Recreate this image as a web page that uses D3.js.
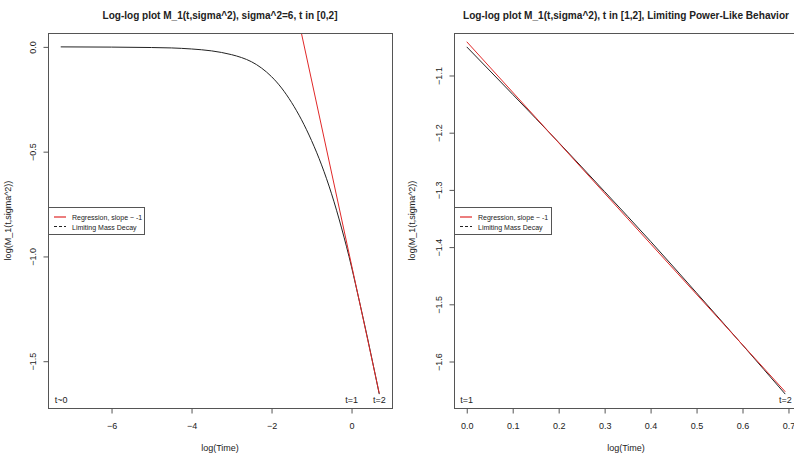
<!DOCTYPE html>
<html><head><meta charset="utf-8">
<script src="https://cdn.jsdelivr.net/npm/d3@7"></script>
<style>body{margin:0;background:#fff}svg{display:block}text{font-family:"Liberation Sans",Arial,sans-serif;fill:#222}</style>
</head><body><svg id="c" width="794" height="455"></svg>
<script>
// Left panel: log-log mass curve over t in [~0, 2]
const leftLogT = [-7.27,-6.0,-5.0,-4.5,-4.0,-3.5,-3.0,-2.75,-2.5,-2.25,-2.0,-1.75,-1.5,-1.25,-1.0,-0.75,-0.5,-0.25,0,0.1,0.2,0.3,0.4,0.5,0.6,0.693];
const leftLogM = [0.000,-0.001,-0.003,-0.005,-0.010,-0.019,-0.037,-0.051,-0.071,-0.101,-0.142,-0.196,-0.265,-0.348,-0.447,-0.563,-0.701,-0.864,-1.050,-1.133,-1.217,-1.303,-1.390,-1.480,-1.571,-1.657];
// Right panel: t in [1, 2]
const rightLogT = [0,0.1,0.2,0.3,0.4,0.5,0.6,0.693];
const rightLogM = [-1.050,-1.133,-1.217,-1.303,-1.390,-1.480,-1.571,-1.657];
// Regression line (intercept, slope)
const regIntercept = -1.041;
const regSlope = -0.883;
const leftXTicks = [-6,-4,-2,0];
const leftYTicks = [0.0,-0.5,-1.0,-1.5];
const rightXTicks = [0.0,0.1,0.2,0.3,0.4,0.5,0.6,0.7];
const rightYTicks = [-1.1,-1.2,-1.3,-1.4,-1.5,-1.6];
const titles = ["Log-log plot M_1(t,sigma^2), sigma^2=6, t in [0,2]","Log-log plot M_1(t,sigma^2), t in [1,2], Limiting Power-Like Behavior"];
const legendLabels = ["Regression, slope ~ -1","Limiting Mass Decay"];
const xLabel = "log(Time)";
const yLabel = "log(M_1(t,sigma^2))";

const RED = "#e02828";
const FS = "9px";
const svg = d3.select("#c");
function pad(ext){const w=ext[1]-ext[0];return [ext[0]-0.04*w, ext[1]+0.04*w];}

function panel(o){
  const g = svg.append("g");
  const x = d3.scaleLinear().domain(pad(d3.extent(o.xs))).range([o.x0,o.x1]);
  const y = d3.scaleLinear().domain(pad(d3.extent(o.ys))).range([o.y1,o.y0]);
  const id = "clip"+o.id;
  svg.append("clipPath").attr("id",id).append("rect").attr("x",o.x0).attr("y",o.y0).attr("width",o.x1-o.x0).attr("height",o.y1-o.y0);
  const pts = o.xs.map((v,i)=>[v,o.ys[i]]);
  const line = d3.line().x(d=>x(d[0])).y(d=>y(d[1])).curve(d3.curveMonotoneX);
  g.append("path").attr("d",line(pts)).style("fill","none").style("stroke","#222").style("stroke-width",1).attr("clip-path",`url(#${id})`);
  const ext = d3.extent(o.xs);
  const rl = ext.map(v=>[v, regIntercept+regSlope*v]);
  g.append("path").attr("d",d3.line().x(d=>x(d[0])).y(d=>y(d[1]))(rl)).style("fill","none").style("stroke",RED).style("stroke-width",1).attr("clip-path",`url(#${id})`);
  // box
  g.append("rect").attr("x",o.x0+0.5).attr("y",o.y0+0.5).attr("width",o.x1-o.x0).attr("height",o.y1-o.y0).style("fill","none").style("stroke","#555").style("stroke-width",1);
  // x axis
  const xa = g.append("g").attr("transform",`translate(0,${o.y1+0.5})`).call(d3.axisBottom(x).tickValues(o.xt).tickSize(5).tickSizeOuter(0).tickFormat(o.xf));
  xa.select(".domain").attr("stroke","#555").attr("d",`M${x(o.xt[0])},0H${x(o.xt[o.xt.length-1])}`);
  xa.selectAll(".tick line").attr("stroke","#555");
  xa.selectAll(".tick text").attr("dy","0").attr("y",20).style("font-size",FS).style("font-family","Liberation Sans, Arial").attr("fill","#222");
  const ya = g.append("g").attr("transform",`translate(${o.x0+0.5},0)`).call(d3.axisLeft(y).tickValues(o.yt).tickSize(5).tickSizeOuter(0).tickFormat(d3.format(".1f")));
  ya.select(".domain").attr("stroke","#555").attr("d",`M0,${y(o.yt[0])}V${y(o.yt[o.yt.length-1])}`);
  ya.selectAll(".tick line").attr("stroke","#555");
  ya.selectAll(".tick text").attr("x",0).attr("dy","0").attr("transform","translate(-13,0) rotate(-90)").attr("text-anchor","middle").style("font-size",FS).style("font-family","Liberation Sans, Arial").attr("fill","#222");
  // titles
  g.append("text").attr("x",o.tx).attr("y",19).attr("text-anchor","middle").style("font-weight","bold").style("font-size","10px")
    .attr("textLength",o.tl).attr("lengthAdjust","spacingAndGlyphs").text(o.title);
  g.append("text").attr("x",(o.x0+o.x1)/2).attr("y",451).attr("text-anchor","middle").style("font-size",FS).text(xLabel);
  g.append("text").attr("transform",`translate(${o.yl},${(o.y0+o.y1)/2}) rotate(-90)`).attr("text-anchor","middle").style("font-size",FS).text(yLabel);
  // annotations
  o.ann.forEach(a=>{
    g.append("text").attr("x",x(a[0])+(a[2]||0)).attr("y",402.5).attr("text-anchor",a[3]||"middle").style("font-size",FS).text(a[1]);
  });
  // legend
  const lg = g.append("g");
  lg.append("rect").attr("x",o.x0+0.5).attr("y",207.5).attr("width",o.lw).attr("height",27).style("fill","#fff").style("stroke","#555").style("stroke-width",1);
  lg.append("line").attr("x1",o.x0+6).attr("x2",o.x0+18).attr("y1",217).attr("y2",217).style("stroke",RED).style("stroke-width",1.2);
  lg.append("line").attr("x1",o.x0+6).attr("x2",o.x0+18).attr("y1",226.5).attr("y2",226.5).style("stroke","#222").style("stroke-width",1).style("stroke-dasharray","3,2");
  lg.append("text").attr("x",o.x0+24).attr("y",220).style("font-size","7px").text(legendLabels[0]);
  lg.append("text").attr("x",o.x0+24).attr("y",229.5).style("font-size","7px").text(legendLabels[1]);
}

panel({id:"L",xs:leftLogT,ys:leftLogM,x0:48,x1:392,y0:33,y1:408,xt:leftXTicks,yt:leftYTicks,xf:d3.format("d"),title:titles[0],tx:220,tl:235,yl:11,
  ann:[[leftLogT[0],"t~0",-6,"start"],[0,"t=1"],[Math.log(2),"t=2"]],lw:96});
panel({id:"R",xs:rightLogT,ys:rightLogM,x0:454,x1:798,y0:33,y1:408,xt:rightXTicks,yt:rightYTicks,xf:d3.format(".1f"),title:titles[1],tx:626,tl:326,yl:415,
  ann:[[0,"t=1"],[Math.log(2),"t=2"]],lw:97});
</script></body></html>
